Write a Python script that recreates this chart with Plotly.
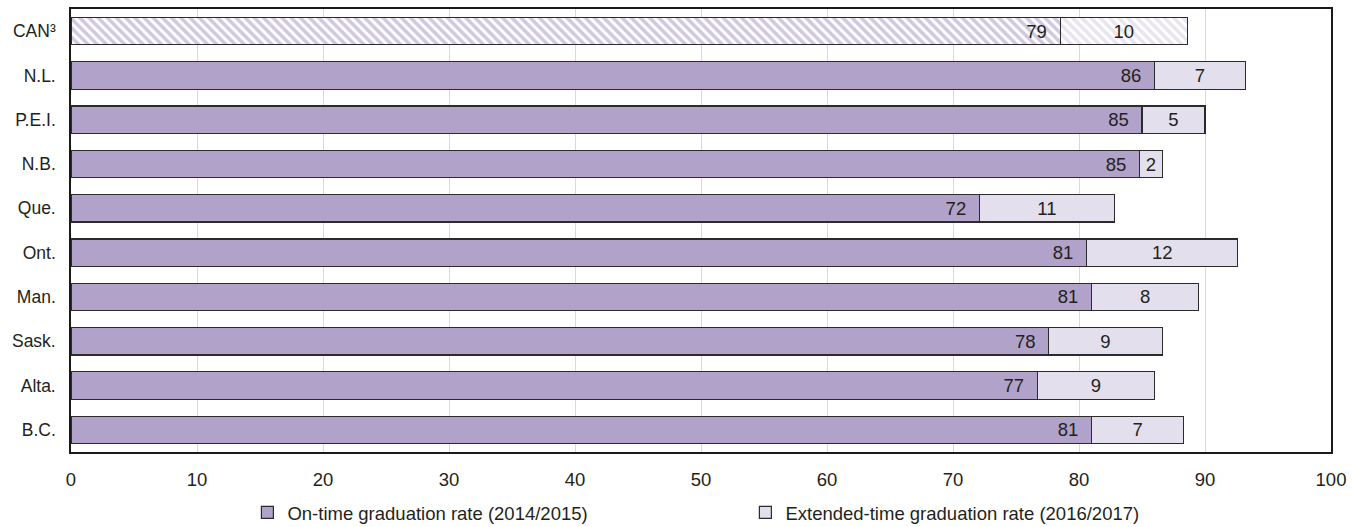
import plotly.graph_objects as go

# Display order, top to bottom
provinces = ["CAN³", "N.L.", "P.E.I.", "N.B.", "Que.", "Ont.", "Man.", "Sask.", "Alta.", "B.C."]
on_time = [78.5, 86.0, 85.0, 84.8, 72.1, 80.6, 81.0, 77.6, 76.7, 81.0]
extended = [10.1, 7.2, 5.0, 1.8, 10.7, 12.0, 8.5, 9.0, 9.3, 7.3]
on_time_labels = ["79", "86", "85", "85", "72", "81", "81", "78", "77", "81"]
extended_labels = ["10", "7", "5", "2", "11", "12", "8", "9", "9", "7"]
x_ticks = [0, 10, 20, 30, 40, 50, 60, 70, 80, 90, 100]

ON_COLOR = "#b1a2c9"
EXT_COLOR = "#e4dfec"
FONT = "Liberation Sans, Arial, sans-serif"
TXT = "#231f20"

patterns = ["\\"] + [""] * (len(provinces) - 1)

# Plotly draws the first category at the bottom, so feed the data bottom-up
rev = lambda a: list(a)[::-1]

fig = go.Figure()
fig.add_trace(go.Bar(
    y=rev(provinces), x=rev(on_time), orientation="h",
    name="On-time graduation rate (2014/2015)",
    text=rev(on_time_labels), texttemplate="%{text}\u00a0\u00a0",
    textposition="inside", insidetextanchor="end",
    textangle=0, textfont=dict(family=FONT, size=18.5, color=TXT),
    marker=dict(color=ON_COLOR, line=dict(color="#2b2b2b", width=1.2),
                pattern=dict(shape=rev(patterns), fgcolor="#a392c2", bgcolor="white",
                             size=6.5, solidity=0.55)),
))
fig.add_trace(go.Bar(
    y=rev(provinces), x=rev(extended), orientation="h",
    name="Extended-time graduation rate (2016/2017)",
    text=rev(extended_labels), textposition="inside", insidetextanchor="middle",
    textangle=0, textfont=dict(family=FONT, size=18.5, color=TXT),
    marker=dict(color=EXT_COLOR, line=dict(color="#2b2b2b", width=1.2),
                pattern=dict(shape=rev(patterns), fgcolor="#d3cae2", bgcolor="white",
                             size=6.5, solidity=0.55)),
))

fig.update_layout(
    width=1359, height=527,
    barmode="stack", bargap=0.38,
    plot_bgcolor="white", paper_bgcolor="white",
    margin=dict(l=71, r=28, t=9, b=75, autoexpand=False),
    font=dict(family=FONT, size=17.5, color=TXT),
    legend=dict(orientation="h", x=0.140, xanchor="left",
                yref="container", y=0.027, yanchor="middle",
                entrywidth=453, entrywidthmode="pixels",
                font=dict(family=FONT, size=18.5, color=TXT),
                itemwidth=30, traceorder="normal"),
)
fig.update_xaxes(range=[0, 100], tickvals=x_ticks, showgrid=True, gridcolor="#d9d9d9",
                 gridwidth=1, showline=True, linecolor="#1a1a1a", linewidth=1.5, mirror=True,
                 ticks="outside", ticklen=10, tickcolor="rgba(0,0,0,0)", zeroline=False,
                 automargin=False, tickfont=dict(family=FONT, size=18.5, color=TXT))
fig.update_yaxes(showline=True, linecolor="#1a1a1a", linewidth=1.5,
                 mirror=True, ticks="outside", ticklen=10, tickcolor="rgba(0,0,0,0)",
                 automargin=False, tickfont=dict(family=FONT, size=17.5, color=TXT))

fig.write_html("out.html", config={"displayModeBar": False},
               post_script="document.body.style.margin='0px';")
